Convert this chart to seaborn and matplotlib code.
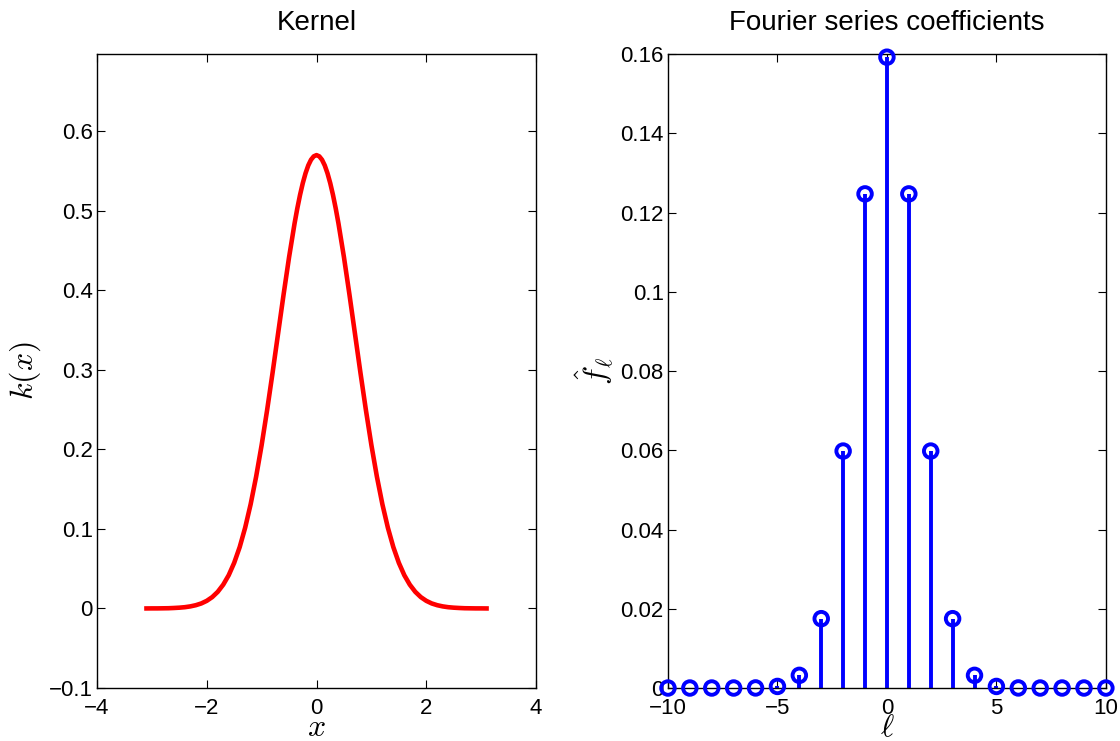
import numpy as np
import matplotlib
matplotlib.use("Agg")
import matplotlib.pyplot as plt
import seaborn as sns

# kernel curve
kernel_x = [-3.14, -3.0, -2.9, -2.8, -2.7, -2.6, -2.5, -2.4, -2.3, -2.2, -2.1, -2.0,
            -1.9, -1.8, -1.7, -1.6, -1.5, -1.4, -1.3, -1.2, -1.1, -1.0, -0.9, -0.8,
            -0.7, -0.6, -0.5, -0.4, -0.35, -0.3, -0.25, -0.2, -0.15, -0.1, -0.05, 0.0,
            0.05, 0.1, 0.15, 0.2, 0.25, 0.3, 0.35, 0.4, 0.5,
            0.6, 0.7, 0.8, 0.9, 1.0, 1.1, 1.2, 1.3, 1.4, 1.5, 1.6, 1.7, 1.8, 1.9,
            2.0, 2.1, 2.2, 2.3, 2.4, 2.5, 2.6, 2.7, 2.8, 2.9, 3.0, 3.14]
kernel_y = [0.0, 0.0001, 0.0001, 0.0002, 0.0003, 0.0006, 0.0010, 0.0016, 0.0026,
            0.0041, 0.0063, 0.0096, 0.0143, 0.0209, 0.0299, 0.0418, 0.0574, 0.0771,
            0.1016, 0.1311, 0.1658, 0.2054, 0.2494, 0.2966, 0.3457, 0.3947, 0.4416,
            0.4840, 0.5029, 0.5199, 0.5347, 0.5471, 0.5570, 0.5641, 0.5684, 0.5699,
            0.5684, 0.5641, 0.5570, 0.5471, 0.5347, 0.5199, 0.5029, 0.4840,
            0.4416, 0.3947, 0.3457, 0.2966, 0.2494, 0.2054, 0.1658, 0.1311, 0.1016,
            0.0771, 0.0574, 0.0418, 0.0299, 0.0209, 0.0143, 0.0096, 0.0063, 0.0041,
            0.0026, 0.0016, 0.0010, 0.0006, 0.0003, 0.0002, 0.0001, 0.0001, 0.0]

# Fourier coefficients
ell = [-10, -9, -8, -7, -6, -5, -4, -3, -2, -1, 0, 1, 2, 3, 4, 5, 6, 7, 8, 9, 10]
fhat = [0.0, 0.0, 0.0, 0.0, 0.00002, 0.0004, 0.0032, 0.0175, 0.0598, 0.1247, 0.1592,
        0.1247, 0.0598, 0.0175, 0.0032, 0.0004, 0.00002, 0.0, 0.0, 0.0, 0.0]

sns.set_style("ticks")
plt.rcParams['font.family'] = ['Liberation Sans', 'DejaVu Sans']
plt.rcParams['mathtext.fontset'] = 'cm'
plt.rcParams['xtick.direction'] = 'in'
plt.rcParams['ytick.direction'] = 'in'
plt.rcParams['text.color'] = 'black'
plt.rcParams['axes.labelcolor'] = 'black'
plt.rcParams['xtick.color'] = 'black'
plt.rcParams['ytick.color'] = 'black'

fig = plt.figure(figsize=(11.2, 7.41), dpi=100)
ax1 = fig.add_axes([0.0866, 0.0715, 0.392, 0.8556])
ax2 = fig.add_axes([0.5964, 0.0715, 0.391, 0.8556])

# left: kernel
sns.lineplot(x=kernel_x, y=kernel_y, ax=ax1, color='red', linewidth=3.3, sort=False,
             solid_joinstyle='round', solid_capstyle='butt')
ax1.set_xlim(-4, 4)
ax1.set_ylim(-0.1, 0.697)
ax1.set_xticks([-4, -2, 0, 2, 4])
ax1.set_xticklabels(['\u22124', '\u22122', '0', '2', '4'])
ax1.set_yticks([-0.1, 0, 0.1, 0.2, 0.3, 0.4, 0.5, 0.6])
ax1.set_yticklabels(['\u22120.1', '0', '0.1', '0.2', '0.3', '0.4', '0.5', '0.6'])
ax1.set_title('Kernel', fontsize=20, pad=17)
ax1.set_xlabel('$x$', fontsize=23, labelpad=-4)
ax1.set_ylabel('$k(x)$', fontsize=23, labelpad=4)

# right: stem plot
ax2.vlines(ell, 0, fhat, color='blue', linewidth=2.8)
sns.scatterplot(x=ell, y=fhat, ax=ax2, marker='o', s=95, facecolor='none',
                edgecolor='blue', linewidth=2.8, clip_on=False, zorder=5)
ax2.set_xlim(-10, 10)
ax2.set_ylim(0, 0.16)
ax2.set_xticks([-10, -5, 0, 5, 10])
ax2.set_xticklabels(['\u221210', '\u22125', '0', '5', '10'])
ax2.set_yticks(np.arange(0, 0.161, 0.02))
ax2.set_yticklabels(['0', '0.02', '0.04', '0.06', '0.08', '0.1', '0.12', '0.14', '0.16'])
ax2.set_title('Fourier series coefficients', fontsize=20, pad=17)
ax2.set_xlabel(r'$\ell$', fontsize=23, labelpad=-4)
ax2.set_ylabel(r'$\hat{f}_\ell$', fontsize=23, labelpad=3)

for ax in (ax1, ax2):
    ax.tick_params(axis='both', which='both', labelsize=16, top=True, right=True,
                   length=6, width=0.8, colors='black')
    ax.tick_params(axis='x', pad=7)
    ax.tick_params(axis='y', pad=3)
    for sp in ax.spines.values():
        sp.set_visible(True)
        sp.set_linewidth(1.0)
        sp.set_color('black')

fig.savefig('out.png', dpi=100)
